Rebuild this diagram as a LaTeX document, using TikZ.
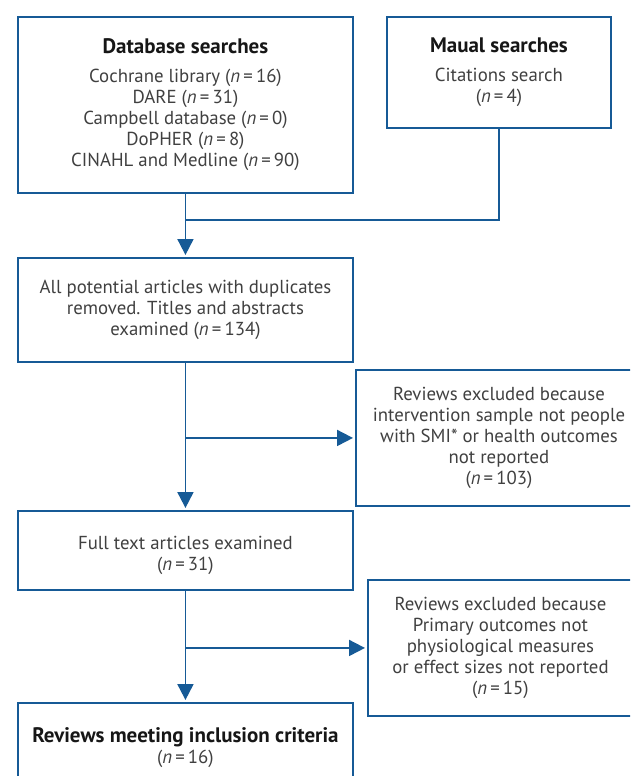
\documentclass[tikz,border=0pt]{standalone}
\usepackage{fontspec}
\setmainfont{PT Sans}
\usepackage{tikz}
\usetikzlibrary{positioning,arrows.meta,calc}
\definecolor{flow}{HTML}{165A96}
\definecolor{ink}{HTML}{404040}
\definecolor{head}{HTML}{161616}
\newcommand{\nval}[1]{(\textit{n}\,=\,#1)}
\newcommand{\headf}[1]{{\fontsize{21}{21}\selectfont\bfseries\color{head}#1}}

\begin{document}
\begin{tikzpicture}[x=1pt,y=-1pt,
  every node/.style={font=\fontsize{18.8}{21}\selectfont,text=ink},
  box/.style={draw=flow,line width=1.9pt,inner sep=0pt,anchor=north west,align=center},
  link/.style={draw=flow,line width=1.9pt},
  tip/.style={link,-{Triangle[length=16pt,width=16pt]},shorten >=2pt}]
  \useasboundingbox (0,0) rectangle (630,776);
  \clip (0,0) rectangle (630,776);
  % search boxes
  \node[box,minimum width=335pt,minimum height=176pt] (db) at (17,16)
    {\headf{Database searches}\\[8pt]
     Cochrane library \nval{16}\\ DARE \nval{31}\\ Campbell database \nval{0}\\
     DoPHER \nval{8}\\ CINAHL and Medline \nval{90}};
  \node[box,minimum width=224pt,minimum height=111pt] (man) at (386,16)
    {\headf{Maual searches}\\[8pt] Citations search\\ \nval{4}};
  % main column
  \node[box,minimum width=335pt,minimum height=104pt] (dup) at (17,257)
    {All potential articles with duplicates\\ removed. Titles and abstracts\\ examined \nval{134}};
  \node[box,minimum width=335pt,minimum height=79pt] (full) at (17,510)
    {\rule{0pt}{24pt}Full text articles examined\\ \nval{31}};
  \node[box,minimum width=335pt,minimum height=89pt] (inc) at (17,702)
    {\headf{Reviews meeting inclusion criteria}\\ \nval{16}};
  % exclusions
  \node[box,minimum width=286pt,minimum height=136pt] (ex1) at (355,369)
    {Reviews excluded because\\ intervention sample not people\\ with SMI* or health outcomes\\
     not reported\\ \nval{103}};
  \node[box,minimum width=265pt,minimum height=136pt] (ex2) at (367,579)
    {Reviews excluded because\\ Primary outcomes not\\ physiological measures\\
     or effect sizes not reported\\ \nval{15}};
  % connectors
  \coordinate (join) at ($(db.south)+(0,26)$);
  \draw[link] (man.south) |- (join);
  \draw[tip] (db.south) -- (dup.north);
  \draw[tip] (dup.south) -- (full.north);
  \draw[tip] (dup.south |- ex1.west) -- (ex1.west);
  \draw[tip] (full.south) -- (inc.north);
  \draw[tip] (full.south |- ex2.west) -- (ex2.west);
\end{tikzpicture}
\end{document}
